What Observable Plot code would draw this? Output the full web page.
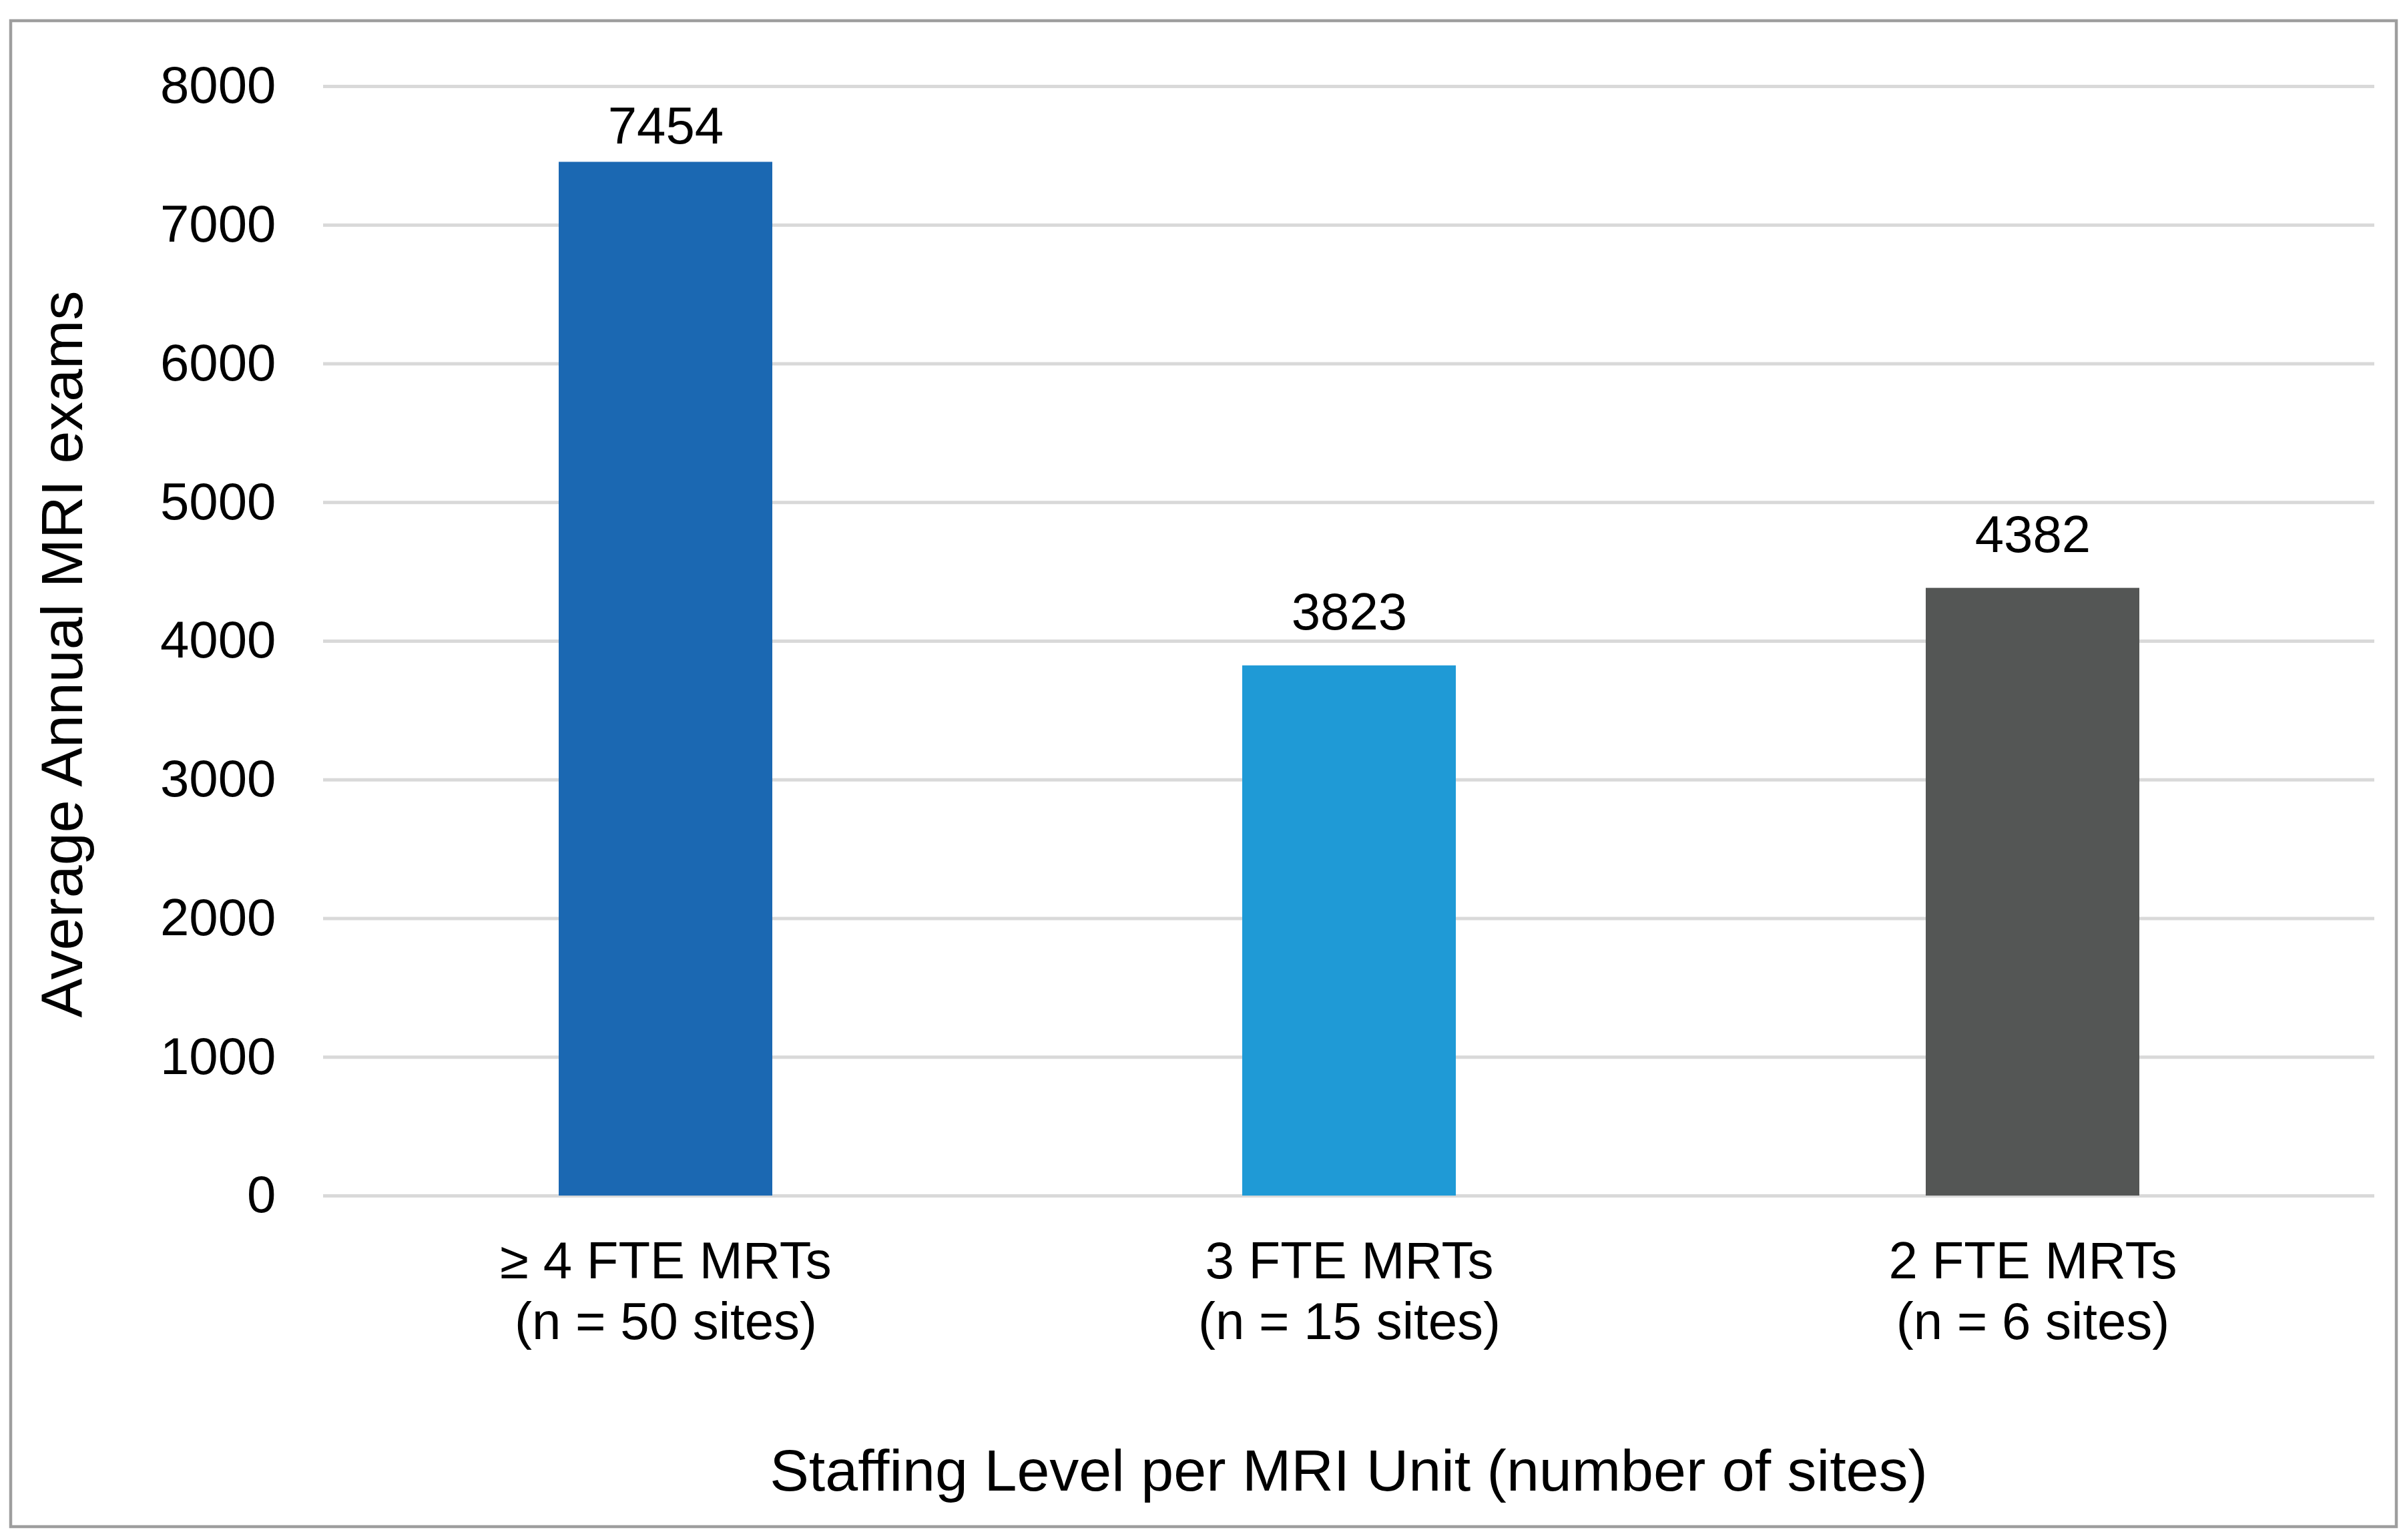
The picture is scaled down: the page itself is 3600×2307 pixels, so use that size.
<!DOCTYPE html>
<html><head><meta charset="utf-8">
<script src="https://cdn.jsdelivr.net/npm/d3@7"></script>
<script src="https://cdn.jsdelivr.net/npm/@observablehq/plot@0.6"></script>
<style>html,body{margin:0;padding:0;background:#fff;overflow:hidden}</style>
</head><body><div id="chart"></div>
<script>
const categories = ["≥ 4 FTE MRTs\n(n = 50 sites)", "3 FTE MRTs\n(n = 15 sites)", "2 FTE MRTs\n(n = 6 sites)"];
const values = [7454, 3823, 4382];
const barColors = ["#1b68b2", "#1f9ad6", "#545655"];
const yTicks = [0, 1000, 2000, 3000, 4000, 5000, 6000, 7000, 8000];
const xTitle = "Staffing Level per MRI Unit (number of sites)";
const yTitle = "Average Annual MRI exams";

const data = categories.map((c, i) => ({cat: c, value: values[i]}));
const W = 3600, H = 2307;
const mL = 484, mR = 43, mT = 129, mB = 516;

const plot = Plot.plot({
  width: W, height: H,
  marginLeft: mL, marginRight: mR, marginTop: mT, marginBottom: mB,
  style: {fontFamily: "'Liberation Sans', Arial, sans-serif", fontSize: "78px", background: "#fff", color: "#000"},
  x: {domain: categories, paddingInner: 0.6875, paddingOuter: 0.34375, label: null},
  y: {domain: [0, 8000], label: null},
  color: {domain: categories, range: barColors},
  marks: [
    Plot.ruleY(yTicks, {stroke: "#d9d9d9", strokeWidth: 5}),
    Plot.barY(data, {x: "cat", y: "value", fill: "cat"}),
    Plot.text(data.filter(d => d.value > 7000), {x: "cat", y: "value", text: d => String(d.value), lineAnchor: "bottom", dy: -28, fontSize: 78, fill: "#000"}),
    Plot.text(data.filter(d => d.value <= 7000), {x: "cat", y: "value", text: d => String(d.value), lineAnchor: "bottom", dy: -54, fontSize: 78, fill: "#000"}),
    Plot.axisY({ticks: yTicks, tickSize: 0, tickPadding: 71, tickFormat: d => String(d), fontSize: 78, label: null}),
    Plot.axisX({tickSize: 0, tickPadding: 59, fontSize: 78, lineHeight: 1.167, label: null})
  ]
});
document.getElementById("chart").appendChild(plot);

const svg = d3.select(plot);
svg.append("rect")
  .attr("x", 16).attr("y", 31).attr("width", 3574).attr("height", 2256)
  .attr("fill", "none").attr("stroke", "#9e9e9e").attr("stroke-width", 4.5);
svg.append("text")
  .attr("transform", "translate(123,980) rotate(-90)")
  .attr("text-anchor", "middle")
  .attr("font-size", 88)
  .attr("fill", "#000")
  .text(yTitle);
svg.append("text")
  .attr("x", mL + (W - mL - mR) / 2).attr("y", 2233)
  .attr("text-anchor", "middle")
  .attr("font-size", 88)
  .attr("fill", "#000")
  .text(xTitle);
</script>
</body></html>
